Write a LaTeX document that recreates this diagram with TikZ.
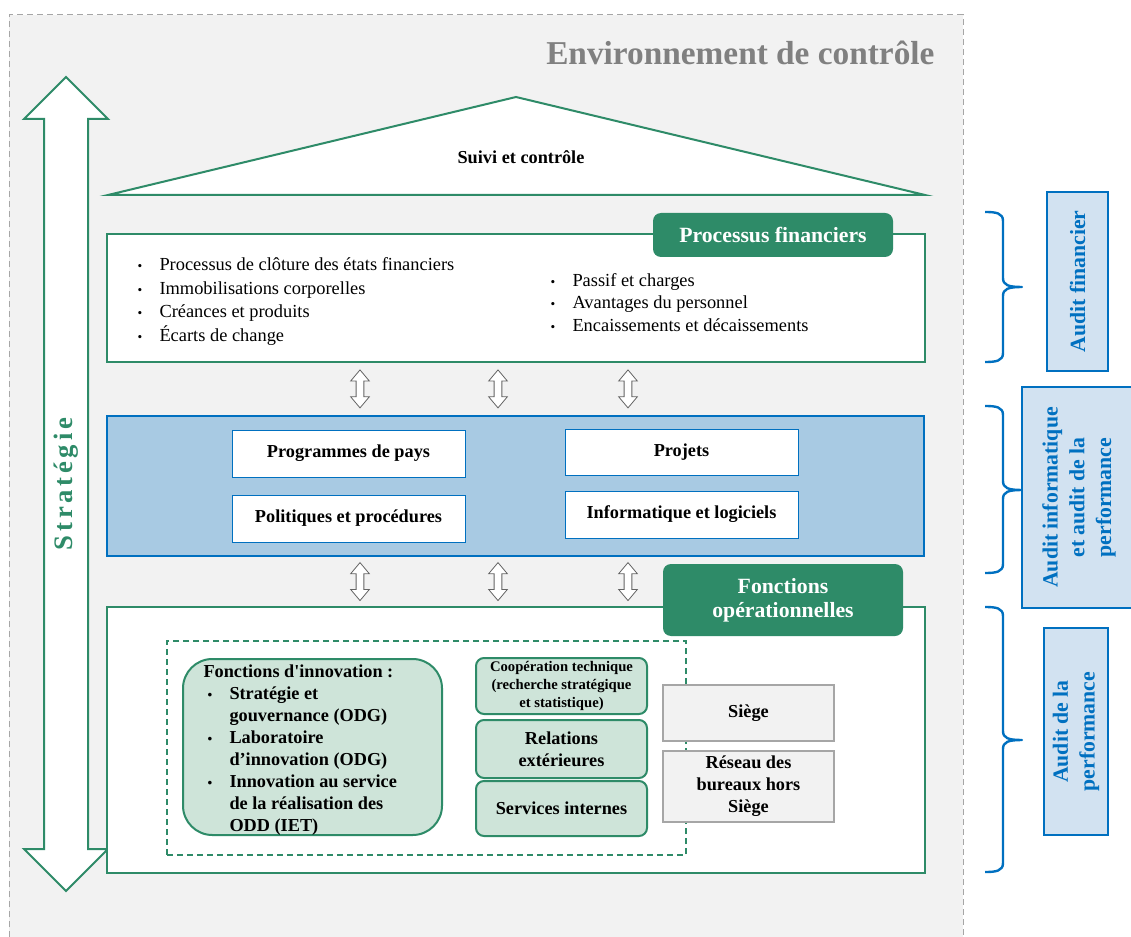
\documentclass[tikz,border=0pt]{standalone}
\usepackage{fontspec}
\setmainfont{Liberation Serif}
\newfontfamily\spacedserif{Liberation Serif}[LetterSpace=14]
\usetikzlibrary{shapes.arrows,fit,calc}

\definecolor{grn}{RGB}{46,139,104}
\definecolor{lgrn}{RGB}{206,228,217}
\definecolor{ofblue}{RGB}{0,112,192}
\definecolor{blufill}{RGB}{168,202,227}
\definecolor{audfill}{RGB}{210,226,241}
\definecolor{bggray}{RGB}{242,242,242}
\definecolor{ttlgray}{RGB}{128,128,128}
\definecolor{edgegray}{RGB}{166,166,166}
\definecolor{arrgray}{RGB}{100,100,100}

\newcommand{\bitem}{\makebox[16.5pt][l]{\fontsize{10}{10}\selectfont\textbullet}}
\newcommand{\ibitem}{\hspace*{3pt}\makebox[16.5pt][l]{\fontsize{10}{10}\selectfont\textbullet}}
\newcommand{\iindent}{\hspace*{19.5pt}}
\newcommand{\auditbrace}[3]{%
\draw [brc] (985,#1) .. controls (996,#1) and (1003,#1+1) .. (1003,#1+9) -- (1003,#2-9) .. controls (1003,#2-2) and (1008,#2) .. (1022,#2) .. controls (1008,#2) and (1003,#2+2) .. (1003,#2+9) -- (1003,#3-9) .. controls (1003,#3-1) and (996,#3) .. (985,#3) ;}

\tikzset{every picture/.style={line width=0.75pt}}
\tikzset{
  gline/.style={draw=grn, line width=1.5pt},
  gframe/.style={draw=grn, fill=white, line width=1.5pt, inner sep=0pt},
  bframe/.style={draw=ofblue, fill=blufill, line width=1.8pt, inner sep=0pt},
  gtab/.style={fill=grn, rounded corners=6pt, text=white, align=center, inner sep=0pt, font=\fontsize{16.3}{18}\selectfont\bfseries},
  wbox/.style={draw=ofblue, fill=white, line width=0.6pt, inner sep=0pt, minimum width=174.75pt, font=\fontsize{13.7}{16}\selectfont\bfseries},
  gbox/.style={draw=grn, fill=lgrn, line width=1.5pt, rounded corners=6pt, align=center, inner sep=0pt},
  sbox/.style={draw=edgegray, fill=bggray, line width=1pt, align=center, inner sep=0pt, minimum width=128.25pt, font=\fontsize{13.7}{16.5}\selectfont\bfseries},
  audit/.style={draw=ofblue, fill=audfill, line width=1.8pt, text=ofblue, rotate=90, align=center, inner sep=0pt, font=\fontsize{16.3}{20}\selectfont\bfseries},
  dblarr/.style={double arrow, draw=arrgray, fill=white, line width=0.6pt, rotate=90, minimum height=28.5pt, text height=0pt, text depth=0pt, inner xsep=0pt, inner ysep=2.6pt, double arrow head extend=4.1pt, double arrow tip angle=80},
  stratarrow/.style={double arrow, draw=grn, fill=white, line width=1.5pt, rotate=90, minimum height=610.5pt, text height=14pt, text depth=4pt, inner xsep=0pt, inner ysep=6.75pt, double arrow head extend=15pt, text=grn, font=\spacedserif\bfseries\fontsize{20}{22}\selectfont},
  brc/.style={draw=ofblue, line width=1.8pt, line join=round},
}

\begin{document}
\begin{tikzpicture}[x=0.75pt,y=0.75pt,yscale=-1,xscale=1]
\useasboundingbox (0,0) rectangle (1131,937);

%Shape: Rectangle (environment)
\fill [bggray] (9,15) rectangle (963,937) ;
\draw [edgegray, dash pattern={on 4.5pt off 3pt}] (9,937) -- (9,15) -- (963,15) -- (963,937) ;

% Text Node
\node [anchor=east, inner sep=0pt, text=ttlgray, font=\fontsize{25}{30}\selectfont\bfseries] (ttl) at (935,53) {Environnement de contrôle};

%Shape: Double Arrow (strategy)
\node [stratarrow] (strat) at (66,484) {Stratégie};

%Shape: Triangle (roof)
\draw [gline, fill=white] (108,195) -- (516,97) -- (925,195) -- cycle ;
% Text Node
\node [inner sep=0pt, font=\fontsize{13.7}{16}\selectfont\bfseries] (suivi) at (521,157) {Suivi et contrôle};

%Shape: Rectangle (financial processes)
\node [gframe, fit={(107,234) (925,362)}] (pf) {};
\node [gtab, minimum width=180pt, minimum height=33pt] (pftab) at (773,235) {Processus financiers};
% Text Node
\node [anchor=west, align=left, inner sep=0pt, font=\fontsize{13.8}{17.8}\selectfont] (pfleft) at (137,301.5) {\bitem Processus de clôture des états financiers\\\bitem Immobilisations corporelles\\\bitem Créances et produits\\\bitem Écarts de change};
% Text Node
\node [anchor=west, align=left, inner sep=0pt, font=\fontsize{13.8}{16.9}\selectfont] (pfright) at (550,302.5) {\bitem Passif et charges\\\bitem Avantages du personnel\\\bitem Encaissements et décaissements};

%Shape: Rectangle (blue layer)
\node [bframe, fit={(107,416) (924,556)}] (mid) {};
\node [wbox, minimum height=35.25pt] (pays) at (348.5,453.5) {Programmes de pays};
\node [wbox, minimum height=34.5pt] (proj) at (681.5,452) {Projets};
\node [wbox, minimum height=35.25pt] (pol) at (348.5,518.5) {Politiques et procédures};
\node [wbox, minimum height=35.25pt] (info) at (681.5,514.5) {Informatique et logiciels};

%Shape: Rectangle (operational functions)
\node [gframe, fit={(107,607) (925,873)}] (ops) {};
\node [gtab, minimum width=180pt, minimum height=54pt] (opstab) at (783,600) {Fonctions\\opérationnelles};

%Double arrows between layers
\foreach \ax [count=\i] in {360,498,628}{
  \coordinate (c\i) at (\ax,0);
  \node [dblarr] (up\i) at ($(c\i |- pf.south)!0.5!(c\i |- mid.north)$) {};
  \node [dblarr] (dn\i) at ($(c\i |- mid.south)!0.5!(c\i |- ops.north)$) {};
}

%Shape: Rectangle (dashed group)
\node [draw=grn, line width=1.5pt, dash pattern={on 4.5pt off 3pt}, inner sep=0pt, fit={(167,641) (686,855)}] (grp) {};

%Shape: Rounded Rectangle (innovation)
\node [gbox, rounded corners=22pt, fit={(183,659) (442,835)}] (innov) {};
% Text Node
\node [anchor=north west, align=left, inner sep=0pt, font=\fontsize{13.7}{16.5}\selectfont\bfseries] (innovtxt) at (203,664) {Fonctions d\textquotesingle innovation :\\\ibitem Stratégie et\\\iindent gouvernance (ODG)\\\ibitem Laboratoire\\\iindent d’innovation (ODG)\\\ibitem Innovation au service\\\iindent de la réalisation des\\\iindent ODD (IET)};

%Shape: Rounded Rectangles (services)
\node [gbox, minimum width=128.25pt, minimum height=42pt, font=\fontsize{11}{13.5}\selectfont\bfseries] (coop) at (561.5,686) {Coopération technique\\(recherche stratégique\\et statistique)};
\node [gbox, minimum width=128.25pt, minimum height=43.5pt, font=\fontsize{13.7}{16.5}\selectfont\bfseries] (rel) at (561.5,749) {Relations\\extérieures};
\node [gbox, minimum width=128.25pt, minimum height=41.25pt, font=\fontsize{13.7}{16.5}\selectfont\bfseries] (srv) at (561.5,808.5) {Services internes};

%Shape: Rectangles (headquarters)
\node [sbox, minimum height=42pt] (siege) at (748.5,713) {Siège};
\node [sbox, minimum height=53.25pt] (reseau) at (748.5,786.5) {Réseau des\\bureaux hors\\Siège};

%Curly braces
\auditbrace{212}{287}{362}
\auditbrace{406}{490}{573}
\auditbrace{607}{740}{872}

%Shape: Rectangles (audits)
\node [audit, minimum width=134.25pt, minimum height=45.75pt] (af) at (1077.5,281.5) {Audit financier};
\node [audit, minimum width=165.75pt, minimum height=85.5pt] (ai) at (1079,497.5) {Audit informatique\\et audit de la\\performance};
\node [audit, minimum width=155.25pt, minimum height=48pt] (ap) at (1076,731.5) {Audit de la\\performance};

\end{tikzpicture}
\end{document}
